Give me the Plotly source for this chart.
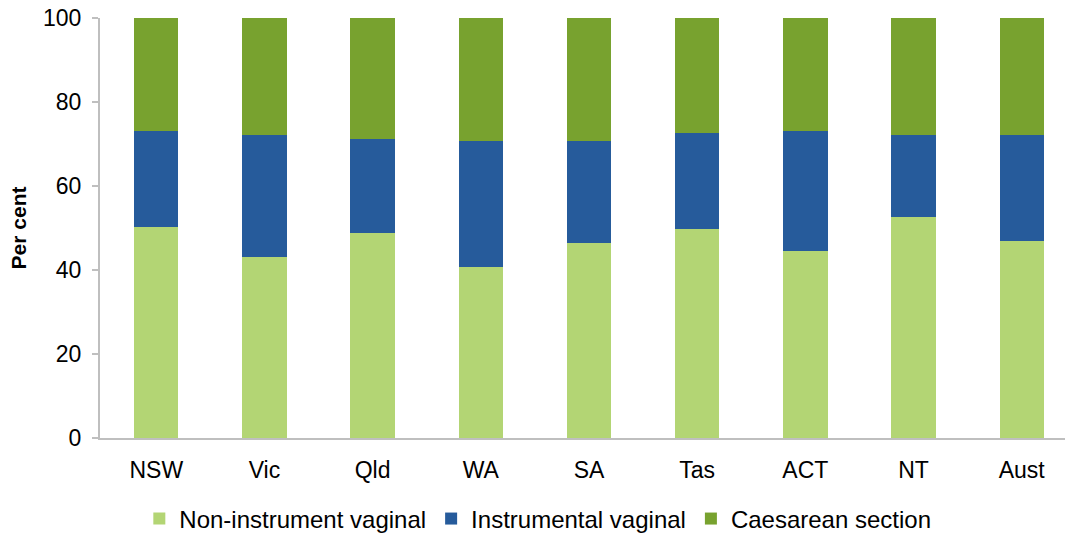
import plotly.graph_objects as go

categories = ["NSW", "Vic", "Qld", "WA", "SA", "Tas", "ACT", "NT", "Aust"]
non_instrument = [50.2, 43.1, 48.8, 40.7, 46.4, 49.8, 44.5, 52.6, 46.9]
instrumental = [22.9, 29.0, 22.4, 30.0, 24.3, 22.8, 28.6, 19.5, 25.2]
caesarean = [26.9, 27.9, 28.8, 29.3, 29.3, 27.4, 26.9, 27.9, 27.9]
y_ticks = [0, 20, 40, 60, 80, 100]

series = [
    ("Non-instrument vaginal", non_instrument, "#B3D574"),
    ("Instrumental vaginal", instrumental, "#265B9B"),
    ("Caesarean section", caesarean, "#78A22F"),
]

font_family = "Liberation Sans, Arial, sans-serif"

fig = go.Figure()
for name, vals, col in series:
    fig.add_trace(go.Bar(
        x=list(range(len(categories))), y=vals, name=name,
        marker=dict(color=col, line=dict(width=0)),
        width=0.41,
    ))

fig.update_layout(
    barmode="stack",
    width=1065, height=535,
    margin=dict(l=100, r=0, t=18, b=97, autoexpand=False),
    paper_bgcolor="white", plot_bgcolor="white",
    font=dict(family=font_family, size=23, color="black"),
    showlegend=True,
    legend=dict(
        orientation="h", x=0.505, xanchor="center", xref="container",
        y=0.03, yanchor="middle", yref="container",
        font=dict(size=24), itemsizing="constant",
        traceorder="normal", itemwidth=30,
    ),
    xaxis=dict(
        tickmode="array", tickvals=list(range(len(categories))), ticktext=categories,
        range=[-0.52, 8.40], showline=True, linecolor="#BFBFBF", linewidth=2,
        ticks="", showgrid=False, zeroline=False, ticklabelstandoff=10,
        automargin=False, tickfont=dict(size=23),
    ),
    yaxis=dict(
        range=[0, 100], tickmode="array", tickvals=y_ticks,
        showline=True, linecolor="#BFBFBF", linewidth=2,
        ticks="outside", ticklen=6, tickcolor="#BFBFBF", tickwidth=2,
        showgrid=False, zeroline=False, automargin=False,
        ticklabelstandoff=6, tickfont=dict(size=23),
        title=dict(text="<b>Per cent</b>", standoff=11, font=dict(size=21)),
    ),
)

fig.write_html(
    "out.html",
    config={"displayModeBar": False},
    post_script="document.body.style.margin='0';document.body.style.overflow='hidden';",
)
